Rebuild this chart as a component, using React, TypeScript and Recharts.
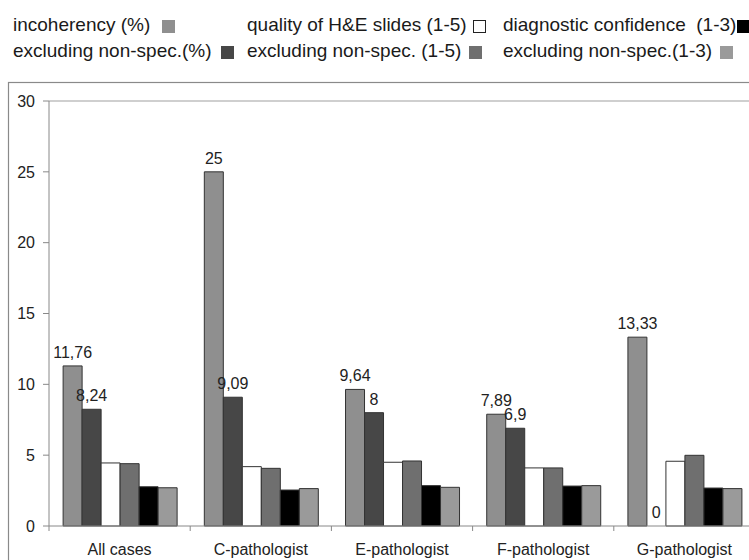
import React from "react";
import { BarChart, Bar, XAxis, YAxis, ReferenceLine, ReferenceDot, LabelList } from "recharts";

const categories = ["All cases", "C-pathologist", "E-pathologist", "F-pathologist", "G-pathologist"];
const incoherency = [11.3, 25, 9.64, 7.89, 13.33];
const exclPct = [8.24, 9.09, 8, 6.9, 0];
const quality = [4.45, 4.19, 4.5, 4.1, 4.57];
const exclQuality = [4.4, 4.07, 4.59, 4.1, 4.99];
const confidence = [2.77, 2.54, 2.85, 2.82, 2.68];
const exclConfidence = [2.7, 2.64, 2.73, 2.85, 2.64];
const incoherencyLabels = ["11,76", "25", "9,64", "7,89", "13,33"];
const exclPctLabels = ["8,24", "9,09", "8", "6,9", "0"];
const yTicks = [0, 5, 10, 15, 20, 25, 30];

const seriesNames = [
  "incoherency (%)",
  "excluding non-spec.(%)",
  "quality of H&E slides (1-5)",
  "excluding non-spec. (1-5)",
  "diagnostic confidence\u00a0 (1-3)",
  "excluding non-spec.(1-3)",
];
const seriesColors = ["#8f8f8f", "#474747", "#ffffff", "#6f6f6f", "#000000", "#9a9a9a"];

const data = categories.map((name, i) => ({
  name,
  inc: incoherency[i],
  exc: exclPct[i],
  q: quality[i],
  qx: exclQuality[i],
  c: confidence[i],
  cx: exclConfidence[i],
  incLabel: incoherencyLabels[i],
  excLabel: exclPctLabels[i],
}));
const keys = ["inc", "exc", "q", "qx", "c", "cx"];

const FONT = "'Liberation Sans', Arial, Helvetica, sans-serif";
const CHART_W = 790;
const CHART_H = 560;
const PLOT_LEFT = 49;
const PLOT_RIGHT = 755;
const PLOT_TOP = 101;
const PLOT_BOTTOM = 526;
const BAND = (PLOT_RIGHT - PLOT_LEFT) / categories.length;
const CAT_GAP = 0.1;
const BAR_W = (BAND * (1 - 2 * CAT_GAP)) / keys.length;

const XTick = (props: any) => {
  const { x, payload } = props;
  const bx = x - BAND / 2;
  return (
    <g>
      <line x1={bx} y1={PLOT_BOTTOM} x2={bx} y2={PLOT_BOTTOM + 5} stroke="#888" strokeWidth={1} />
      <text x={x} y={555} textAnchor="middle" fill="#222" fontSize={16} fontFamily={FONT}>
        {payload.value}
      </text>
    </g>
  );
};

// zero-height bars get no label from LabelList; draw those labels at the bar centre
const zeroLabel = (text: string, seriesIndex: number) => (props: any) => {
  const vb = props.viewBox || {};
  const cx = vb.x + (vb.width || 0) / 2;
  const cy = vb.y;
  const dx = BAND * CAT_GAP + BAR_W * (seriesIndex + 0.5) - BAND / 2;
  return (
    <text x={cx + dx} y={cy - 8} textAnchor="middle" fill="#222" fontSize={16} fontFamily={FONT}>
      {text}
    </text>
  );
};

const legendLayout = [
  { left: 13, top: 12, gap: 12 },
  { left: 13, top: 38, gap: 9 },
  { left: 247, top: 12, gap: 6 },
  { left: 247, top: 38, gap: 8 },
  { left: 503, top: 12, gap: 1 },
  { left: 503, top: 38, gap: 8 },
];

export default function App() {
  return (
    <div
      style={{
        position: "fixed",
        left: 0,
        top: 0,
        width: 749,
        height: 560,
        overflow: "hidden",
        background: "#fff",
        fontFamily: FONT,
      }}
    >
      <svg style={{ position: "absolute", left: 0, top: 0 }} width={749} height={560}>
        <rect x={8.5} y={82.5} width={900} height={600} fill="none" stroke="#8a8a8a" strokeWidth={1.2} />
      </svg>
      {seriesNames.map((n, i) => (
        <div
          key={n}
          style={{
            position: "absolute",
            left: legendLayout[i].left,
            top: legendLayout[i].top,
            fontSize: 19,
            lineHeight: "26px",
            color: "#1a1a1a",
            whiteSpace: "nowrap",
          }}
        >
          <span>{n}</span>
          <span
            style={{
              display: "inline-block",
              width: 13,
              height: 13,
              marginLeft: legendLayout[i].gap,
              background: seriesColors[i],
              border: i === 2 ? "1px solid #222" : "none",
              boxSizing: "border-box",
              verticalAlign: -2,
            }}
          />
        </div>
      ))}
      <div style={{ position: "absolute", left: 0, top: 0 }}>
        <BarChart
          width={CHART_W}
          height={CHART_H}
          data={data}
          margin={{ top: PLOT_TOP, right: CHART_W - PLOT_RIGHT, bottom: CHART_H - PLOT_BOTTOM - 30, left: 0 }}
          barCategoryGap={`${CAT_GAP * 100}%`}
          barGap={0}
          style={{ fontFamily: FONT }}
        >
          <ReferenceLine y={30} stroke="#a0a0a0" strokeWidth={1.2} />
          <XAxis
            dataKey="name"
            height={30}
            interval={0}
            axisLine={{ stroke: "#888" }}
            tickLine={false}
            tick={<XTick />}
          />
          <YAxis
            domain={[0, 30]}
            ticks={yTicks}
            interval={0}
            width={PLOT_LEFT}
            tickSize={6}
            tickMargin={8}
            axisLine={{ stroke: "#888" }}
            tickLine={{ stroke: "#888" }}
            tick={{ fill: "#222", fontSize: 16, fontFamily: FONT }}
          />
          {keys.map((k, i) => (
            <Bar
              key={k}
              dataKey={k}
              name={seriesNames[i]}
              fill={seriesColors[i]}
              stroke="#333"
              strokeWidth={1}
              isAnimationActive={false}
            >
              {i === 0 && (
                <LabelList dataKey="incLabel" position="top" offset={8} fill="#222" fontSize={16} fontFamily={FONT} />
              )}
              {i === 1 && (
                <LabelList dataKey="excLabel" position="top" offset={8} fill="#222" fontSize={16} fontFamily={FONT} />
              )}
            </Bar>
          ))}
          {data
            .filter((d) => d.exc === 0)
            .map((d) => (
              <ReferenceDot
                key={"z" + d.name}
                x={d.name}
                y={0}
                r={0}
                fill="none"
                stroke="none"
                label={zeroLabel(d.excLabel, 1)}
              />
            ))}
        </BarChart>
      </div>
    </div>
  );
}
